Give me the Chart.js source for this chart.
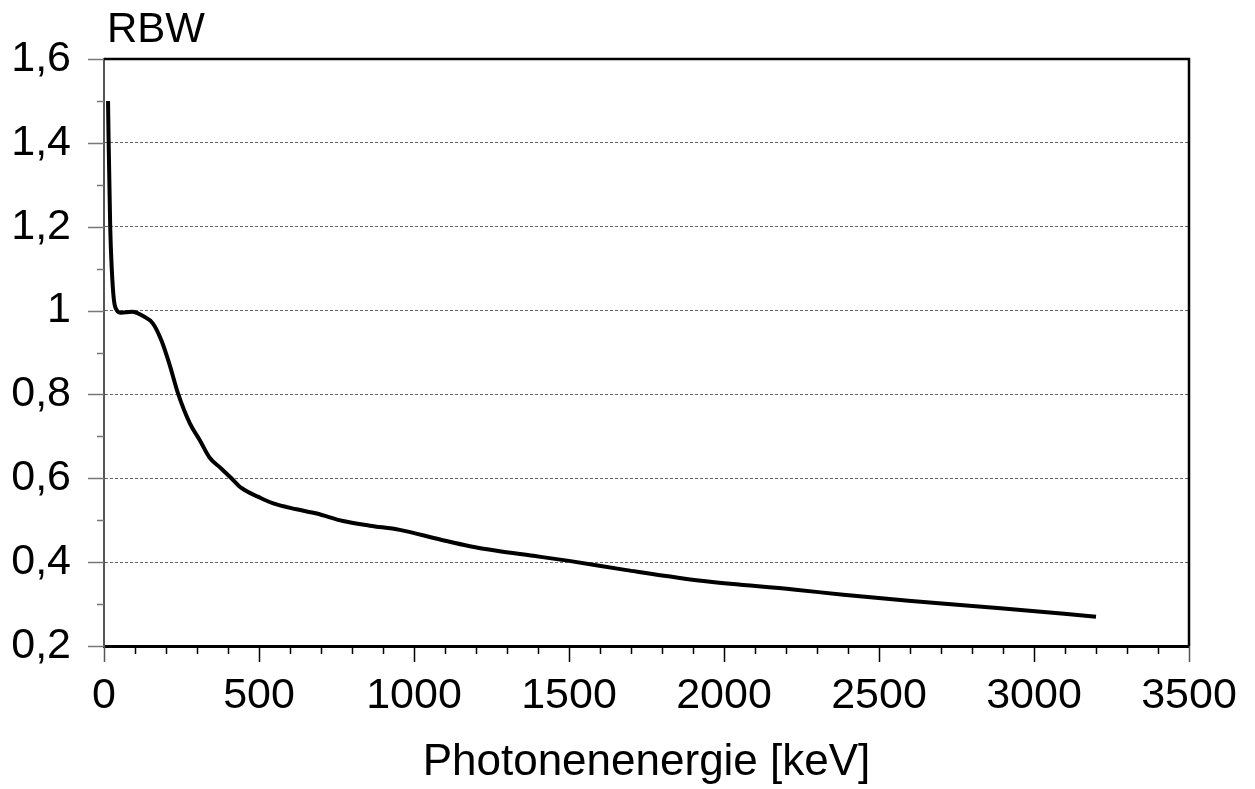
<!DOCTYPE html>
<html>
<head>
<meta charset="utf-8">
<script src="https://cdn.jsdelivr.net/npm/chart.js@4/dist/chart.umd.min.js"></script>
<style>
    html, body { margin: 0; padding: 0; background: #fff; }
    #wrap { width: 1255px; height: 789px; }
</style>
</head>
<body>
<div id="wrap"><canvas id="rbw-chart" width="1255" height="789"></canvas></div>
<script>
// photon energy [keV] and relative biological effectiveness
var energy = [13, 15, 20, 25, 32, 42, 55, 90, 126, 158, 185, 212, 239, 277, 309, 341, 374, 411, 443, 500, 546, 621, 686, 771, 858, 954, 1084, 1180, 1267, 1385, 1500, 1686, 1955, 2224, 2385, 2595, 2892, 3200];
var rbw = [1.50, 1.40, 1.20, 1.10, 1.025, 1.00, 0.995, 0.997, 0.987, 0.969, 0.929, 0.870, 0.802, 0.731, 0.691, 0.649, 0.626, 0.600, 0.577, 0.555, 0.540, 0.526, 0.516, 0.498, 0.487, 0.477, 0.454, 0.438, 0.427, 0.415, 0.403, 0.381, 0.353, 0.335, 0.322, 0.308, 0.290, 0.270];

var xMin = 0, xMax = 3500, xMinor = 100, xMajor = 500;
var yMin = 0.2, yMax = 1.6, yMinor = 0.1;

var yLabel = 'RBW';
var xLabel = 'Photonenenergie [keV]';

var FONT = "'Liberation Sans', Arial, sans-serif";

function isMajorY(v) {
    return Math.round(v * 10) % 2 === 0;
}

function fmtY(v) {
    return String(Number(v.toFixed(1))).replace('.', ',');
}

// short/long tick marks, frame and the axis name on top
var framePlugin = {
    id: 'frame',
    afterDraw: function (chart) {
        var ctx = chart.ctx;
        var a = chart.chartArea;
        var xs = chart.scales.x;
        var ys = chart.scales.y;
        ctx.save();

        ctx.strokeStyle = '#777';
        ctx.lineWidth = 1.5;
        ys.ticks.forEach(function (t) {
            var py = Math.round(ys.getPixelForValue(t.value)) + 0.5;
            var len = isMajorY(t.value) ? 16 : 7;
            ctx.beginPath();
            ctx.moveTo(a.left - len, py);
            ctx.lineTo(a.left, py);
            ctx.stroke();
        });

        ctx.lineWidth = 1.5;
        xs.ticks.forEach(function (t) {
            var px = Math.round(xs.getPixelForValue(t.value)) + 0.5;
            var len = (t.value % xMajor === 0) ? 16 : 8;
            if (t.value === xMax || t.value === xMin) ctx.strokeStyle = '#555';
            else ctx.strokeStyle = '#000';
            ctx.beginPath();
            ctx.moveTo(px, a.bottom);
            ctx.lineTo(px, a.bottom + len);
            ctx.stroke();
        });

        ctx.strokeStyle = '#000';
        ctx.lineWidth = 2.5;
        ctx.beginPath();
        ctx.moveTo(a.left, a.top);
        ctx.lineTo(a.right, a.top);
        ctx.lineTo(a.right, a.bottom);
        ctx.stroke();

        ctx.fillStyle = '#000';
        ctx.font = '42px ' + FONT;
        ctx.textAlign = 'left';
        ctx.textBaseline = 'alphabetic';
        ctx.fillText(yLabel, a.left + 3, a.top - 17);
        ctx.restore();
    }
};

var points = energy.map(function (e, i) {
    return { x: e, y: rbw[i] };
});

var ctx = document.getElementById('rbw-chart').getContext('2d');
var chart = new Chart(ctx, {
    type: 'line',
    data: {
        datasets: [{
            data: points,
            borderColor: '#000',
            borderWidth: 4,
            pointRadius: 0,
            cubicInterpolationMode: 'monotone',
            fill: false
        }]
    },
    options: {
        responsive: false,
        animation: false,
        events: [],
        layout: {
            padding: { top: 59, right: 66, left: 0, bottom: 0 }
        },
        plugins: {
            legend: { display: false },
            tooltip: { enabled: false }
        },
        scales: {
            x: {
                type: 'linear',
                min: xMin,
                max: xMax,
                afterFit: function (scale) {
                    scale.height = 143;
                    scale.paddingLeft = 0;
                    scale.paddingRight = 0;
                },
                border: { color: '#000', width: 3 },
                grid: { display: false, drawTicks: false },
                ticks: {
                    stepSize: xMinor,
                    autoSkip: false,
                    maxRotation: 0,
                    padding: 24,
                    color: '#000',
                    font: { family: FONT, size: 43 },
                    callback: function (v) {
                        return v % xMajor === 0 ? String(v) : '';
                    }
                },
                title: {
                    display: true,
                    text: xLabel,
                    color: '#000',
                    font: { family: FONT, size: 44 },
                    padding: { top: 0, bottom: 0 }
                }
            },
            y: {
                type: 'linear',
                min: yMin,
                max: yMax,
                afterFit: function (scale) { scale.width = 104; },
                border: { color: '#555', width: 2, dash: [3, 2] },
                grid: {
                    drawTicks: false,
                    lineWidth: 1,
                    color: function (c) {
                        var v = c.tick ? c.tick.value : 0;
                        if (!isMajorY(v) || v < yMin + 0.05 || v > yMax - 0.05) return 'rgba(0,0,0,0)';
                        return '#666';
                    }
                },
                ticks: {
                    stepSize: yMinor,
                    autoSkip: false,
                    padding: 33,
                    color: '#000',
                    font: { family: FONT, size: 43 },
                    callback: function (v) {
                        return isMajorY(v) ? fmtY(v) : '';
                    }
                }
            }
        }
    },
    plugins: [framePlugin]
});
</script>
</body>
</html>
